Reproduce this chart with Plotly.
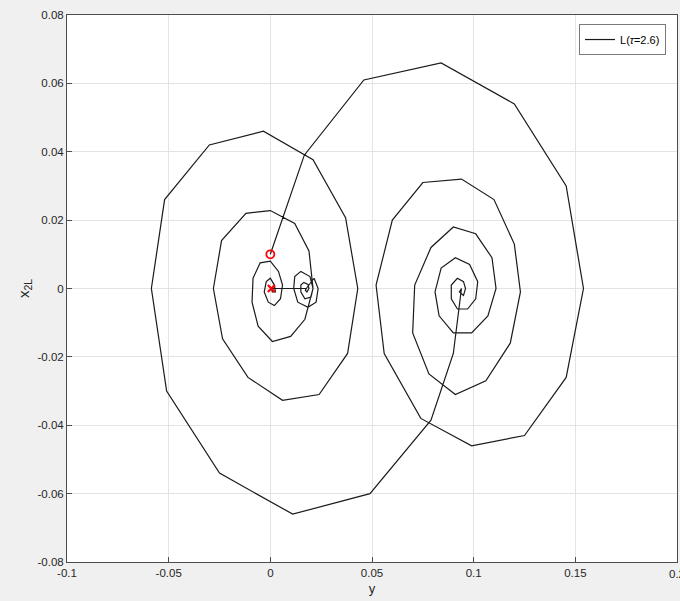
import plotly.graph_objects as go

# Trajectory in the (y, x_2L) plane, listed point by point.
# Leg 1: from the initial state up and around the right focus.
leg1_y = [0.0, 0.0167, 0.046, 0.084, 0.120, 0.1455, 0.154, 0.1455, 0.125, 0.099, 0.074,
          0.056, 0.052, 0.060, 0.075, 0.094, 0.110, 0.120, 0.123, 0.118, 0.106, 0.091,
          0.078, 0.070, 0.071, 0.079, 0.090, 0.101, 0.109, 0.111, 0.107, 0.099, 0.090,
          0.083, 0.081, 0.084, 0.091, 0.098, 0.102, 0.101, 0.097, 0.092, 0.089, 0.089,
          0.092, 0.095, 0.096, 0.095, 0.093, 0.094]
leg1_x = [0.010, 0.039, 0.061, 0.066, 0.054, 0.030, 0.0, -0.026, -0.043, -0.046, -0.038,
          -0.019, 0.001, 0.020, 0.031, 0.032, 0.026, 0.013, -0.001, -0.016, -0.027, -0.031,
          -0.025, -0.013, 0.001, 0.012, 0.018, 0.016, 0.009, 0.0, -0.008, -0.013, -0.013,
          -0.008, -0.001, 0.006, 0.009, 0.007, 0.002, -0.003, -0.006, -0.006, -0.003, 0.001,
          0.003, 0.002, 0.0, -0.002, -0.001, 0.0]

# Leg 2: from the right focus around the large left loop, spiralling into the left focus.
leg2_y = [0.094, 0.090, 0.079, 0.049, 0.011, -0.025, -0.051, -0.0585, -0.052, -0.030,
          -0.0034, 0.021, 0.037, 0.043, 0.038, 0.024, 0.006, -0.011, -0.0235, -0.028,
          -0.024, -0.012, 0.0, 0.012, 0.019, 0.021, 0.017, 0.010, 0.001, -0.006, -0.009,
          -0.0085, -0.005, 0.0, 0.004, 0.006, 0.005, 0.002, -0.001, -0.003, -0.002, 0.0,
          0.002, 0.0025, 0.001, 0.0005]
leg2_x = [0.0, -0.019, -0.0385, -0.060, -0.066, -0.054, -0.030, 0.0, 0.026, 0.042,
          0.046, 0.0377, 0.0207, 0.0, -0.019, -0.031, -0.0327, -0.026, -0.0147, 0.0,
          0.014, 0.022, 0.0228, 0.019, 0.011, 0.0, -0.009, -0.014, -0.0155, -0.011, -0.004,
          0.003, 0.0075, 0.008, 0.005, 0.001, -0.003, -0.005, -0.004, -0.001, 0.002, 0.003,
          0.001, -0.001, -0.001, 0.0]

# Leg 3: jump along the axis and the small spiral around the middle focus.
leg3_y = [0.0005, 0.0177, 0.0177, 0.0215, 0.0235, 0.0225, 0.0185, 0.0135, 0.0115,
          0.0120, 0.0150, 0.0195, 0.0210, 0.0200, 0.0170, 0.0150, 0.0150, 0.0165,
          0.0185, 0.0190, 0.0180, 0.0172, 0.0177]
leg3_x = [0.0, 0.0, 0.0, 0.003, 0.0, -0.004, -0.0055, -0.004, 0.0,
          0.0035, 0.0050, 0.0035, 0.0, -0.0025, -0.003, -0.001, 0.001,
          0.0018, 0.0012, 0.0, -0.001, -0.0005, 0.0]

start_pt = (0.0, 0.010)
end_pt = (0.0005, 0.0)

traj_y = leg1_y + leg2_y + leg3_y
traj_x = leg1_x + leg2_x + leg3_x

x_ticks = [-0.1, -0.05, 0, 0.05, 0.1, 0.15]
x_ticktext = ["-0.1", "-0.05", "0", "0.05", "0.1", "0.15"]
x_last_tick = 0.2
y_ticks = [-0.08, -0.06, -0.04, -0.02, 0, 0.02, 0.04, 0.06, 0.08]
y_ticktext = ["-0.08", "-0.06", "-0.04", "-0.02", "0", "0.02", "0.04", "0.06", "0.08"]

FONT = "Liberation Sans, Arial, sans-serif"
AX = "#4d4d4d"
TXT = "#262626"

fig = go.Figure()
fig.add_trace(go.Scatter(
    x=traj_y, y=traj_x, mode="lines",
    line=dict(color="#1a1a1a", width=1.2),
    name="L(<i>τ</i>=2.6)", showlegend=True,
))
fig.add_trace(go.Scatter(
    x=[start_pt[0]], y=[start_pt[1]], mode="markers",
    marker=dict(symbol="circle-open", size=8, color="#ff0000", line=dict(width=1.8, color="#ff0000")),
    showlegend=False,
))
fig.add_trace(go.Scatter(
    x=[end_pt[0]], y=[end_pt[1]], mode="markers",
    marker=dict(symbol="x-thin-open", size=7, color="#ff0000", line=dict(width=2.2, color="#ff0000")),
    showlegend=False,
))

axis_common = dict(
    showgrid=True, gridcolor="#e3e3e3", gridwidth=1,
    zeroline=False, showline=True, linecolor=AX, linewidth=1, mirror=True,
    ticks="inside", ticklen=5, tickcolor=AX, tickwidth=1,
    tickfont=dict(family=FONT, size=11.5, color=TXT),
)

fig.update_layout(
    width=680, height=601,
    margin=dict(l=67, r=3, t=15, b=39),
    paper_bgcolor="#f0f0f0", plot_bgcolor="#ffffff",
    font=dict(family=FONT, color=TXT),
    xaxis=dict(range=[-0.1, 0.2], tickvals=x_ticks + [x_last_tick], ticktext=x_ticktext + [""],
               title=dict(text="y", font=dict(family=FONT, size=13, color=TXT), standoff=6),
               **axis_common),
    yaxis=dict(range=[-0.08, 0.08], tickvals=y_ticks, ticktext=y_ticktext,
               title=dict(text="x<sub>2L</sub>", font=dict(family=FONT, size=15, color=TXT), standoff=4),
               **axis_common),
    legend=dict(x=0.982, y=0.9835, xanchor="right", yanchor="top",
                bgcolor="#ffffff", bordercolor="#7a7a7a", borderwidth=1,
                font=dict(family=FONT, size=11, color="#000000"),
                itemwidth=30, tracegroupgap=0),
    showlegend=True,
)

# the last x tick label runs past the right edge of the page
fig.add_annotation(
    x=x_last_tick, xref="x", y=0, yref="paper", yanchor="top", yshift=-4,
    text="0.2", showarrow=False, xanchor="center",
    font=dict(family=FONT, size=11.5, color=TXT),
)

fig.write_html("out.html")
